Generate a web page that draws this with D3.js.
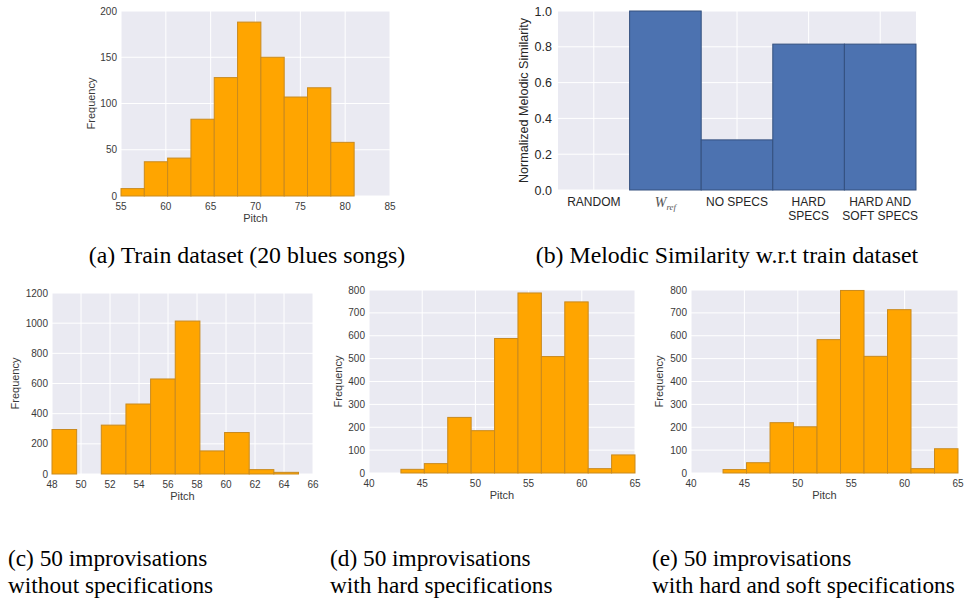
<!DOCTYPE html>
<html>
<head>
<meta charset="utf-8">
<script src="https://cdn.jsdelivr.net/npm/d3@7"></script>
<style>
  body { margin: 0; background: #fff; }
  svg text { font-family: "Liberation Sans", Arial, sans-serif; }
  .caption { font-family: "Liberation Serif", "Times New Roman", serif !important; fill: #000; }
</style>
</head>
<body>
<div id="chart"></div>
<script>
// Histogram data (bin edges + counts)
const trainEdges = [55, 57.6, 60.2, 62.8, 65.4, 68, 70.6, 73.2, 75.8, 78.4, 81];
const trainCounts = [8, 37, 41, 83, 128, 188, 150, 107, 117, 58];

const noSpecEdges = [48, 49.7, 51.4, 53.1, 54.8, 56.5, 58.2, 59.9, 61.6, 63.3, 65];
const noSpecCounts = [295, 0, 324, 464, 630, 1014, 153, 275, 29, 11];

const hardEdges = [43, 45.2, 47.4, 49.6, 51.8, 54, 56.2, 58.4, 60.6, 62.8, 65];
const hardCounts = [16, 41, 243, 185, 588, 787, 509, 748, 19, 79];
const hardSoftCounts = [15, 45, 220, 202, 583, 798, 510, 714, 19, 106];

// Melodic similarity bar chart
const simCategories = ["RANDOM", "WREF", "NO SPECS", "HARD SPECS", "HARD AND SOFT SPECS"];
const simValues = [0, 1.0, 0.28, 0.815, 0.815];
const simTicks = [0, 0.2, 0.4, 0.6, 0.8, 1.0];

const width = 964;
const height = 603;

const svg = d3.select("#chart")
    .append("svg")
    .attr("width", width)
    .attr("height", height);

function drawHist(box, xDomain, xTicks, yDomain, yTicks, edges, counts, fs) {
    const x = d3.scaleLinear().domain(xDomain).range([box.left, box.right]);
    const y = d3.scaleLinear().domain(yDomain).range([box.bottom, box.top]);
    const g = svg.append("g");

    g.append("rect")
        .attr("x", box.left).attr("y", box.top)
        .attr("width", box.right - box.left).attr("height", box.bottom - box.top)
        .attr("fill", "#eaeaf2");

    // grid
    g.selectAll(".gx").data(xTicks).enter().append("line")
        .attr("x1", d => x(d)).attr("x2", d => x(d))
        .attr("y1", box.top).attr("y2", box.bottom)
        .attr("stroke", "#fff").attr("stroke-width", 1);
    g.selectAll(".gy").data(yTicks).enter().append("line")
        .attr("x1", box.left).attr("x2", box.right)
        .attr("y1", d => y(d)).attr("y2", d => y(d))
        .attr("stroke", "#fff").attr("stroke-width", 1);

    // bars
    const bins = counts.map((c, i) => ({ x0: edges[i], x1: edges[i + 1], c: c }));
    g.selectAll(".bar").data(bins).enter().append("rect")
        .attr("x", d => x(d.x0))
        .attr("y", d => y(d.c))
        .attr("width", d => x(d.x1) - x(d.x0))
        .attr("height", d => y(0) - y(d.c))
        .attr("fill", "#ffa500")
        .attr("stroke", "#c98a1e")
        .attr("stroke-width", 1);

    // tick labels
    g.selectAll(".tx").data(xTicks).enter().append("text")
        .attr("x", d => x(d)).attr("y", box.bottom + 14)
        .attr("text-anchor", "middle")
        .attr("font-size", fs).attr("fill", "#3a3a3a")
        .text(d => d);
    g.selectAll(".ty").data(yTicks).enter().append("text")
        .attr("x", box.left - 4).attr("y", d => y(d) + fs * 0.36)
        .attr("text-anchor", "end")
        .attr("font-size", fs).attr("fill", "#3a3a3a")
        .text(d => d);

    g.append("text")
        .attr("x", (box.left + box.right) / 2).attr("y", box.bottom + 26)
        .attr("text-anchor", "middle")
        .attr("font-size", fs + 1).attr("fill", "#3a3a3a")
        .text("Pitch");
    g.append("text")
        .attr("transform", `translate(${box.ylab},${(box.top + box.bottom) / 2}) rotate(-90)`)
        .attr("text-anchor", "middle")
        .attr("font-size", fs + 1).attr("fill", "#3a3a3a")
        .text("Frequency");
}

drawHist({ left: 121, right: 390, top: 11, bottom: 196, ylab: 95 },
    [55, 85], [55, 60, 65, 70, 75, 80, 85], [0, 200], [0, 50, 100, 150, 200],
    trainEdges, trainCounts, 10);

drawHist({ left: 52, right: 313, top: 293, bottom: 474, ylab: 19 },
    [48, 66], [48, 50, 52, 54, 56, 58, 60, 62, 64, 66], [0, 1200], [0, 200, 400, 600, 800, 1000, 1200],
    noSpecEdges, noSpecCounts, 10);

drawHist({ left: 369, right: 635, top: 290, bottom: 473, ylab: 342 },
    [40, 65], [40, 45, 50, 55, 60, 65], [0, 800], [0, 100, 200, 300, 400, 500, 600, 700, 800],
    hardEdges, hardCounts, 10);

drawHist({ left: 691, right: 958, top: 290, bottom: 473, ylab: 663 },
    [40, 65], [40, 45, 50, 55, 60, 65], [0, 800], [0, 100, 200, 300, 400, 500, 600, 700, 800],
    hardEdges, hardSoftCounts, 10);

// Panel (b): similarity bars
(function () {
    const box = { left: 558, right: 916, top: 11, bottom: 190 };
    const x = d3.scaleBand().domain(simCategories).range([box.left, box.right]).padding(0);
    const y = d3.scaleLinear().domain([0, 1]).range([box.bottom, box.top]);
    const g = svg.append("g");

    g.append("rect")
        .attr("x", box.left).attr("y", box.top)
        .attr("width", box.right - box.left).attr("height", box.bottom - box.top)
        .attr("fill", "#eaeaf2");
    g.selectAll(".gx").data(simCategories).enter().append("line")
        .attr("x1", d => x(d) + x.bandwidth() / 2).attr("x2", d => x(d) + x.bandwidth() / 2)
        .attr("y1", box.top).attr("y2", box.bottom)
        .attr("stroke", "#fff");
    g.selectAll(".gy").data(simTicks).enter().append("line")
        .attr("x1", box.left).attr("x2", box.right)
        .attr("y1", d => y(d)).attr("y2", d => y(d))
        .attr("stroke", "#fff");

    g.selectAll(".bar").data(simCategories).enter().append("rect")
        .attr("x", d => x(d))
        .attr("y", (d, i) => y(simValues[i]))
        .attr("width", x.bandwidth())
        .attr("height", (d, i) => y(0) - y(simValues[i]))
        .attr("fill", "#4c72b0")
        .attr("stroke", (d, i) => simValues[i] > 0 ? "#34507f" : "none")
        .attr("stroke-width", 1);

    g.selectAll(".ty").data(simTicks).enter().append("text")
        .attr("x", box.left - 6).attr("y", d => y(d) + 4.5)
        .attr("text-anchor", "end")
        .attr("font-size", 12.5).attr("fill", "#262626")
        .text(d => d.toFixed(1));

    const lines = {
        "RANDOM": ["RANDOM"],
        "NO SPECS": ["NO SPECS"],
        "HARD SPECS": ["HARD", "SPECS"],
        "HARD AND SOFT SPECS": ["HARD AND", "SOFT SPECS"]
    };
    simCategories.forEach(c => {
        const cx = x(c) + x.bandwidth() / 2;
        if (c === "WREF") {
            const t = g.append("text")
                .attr("x", cx).attr("y", box.bottom + 17)
                .attr("text-anchor", "middle")
                .attr("fill", "#555")
                .style("font-family", "'Liberation Serif', serif")
                .style("font-style", "italic");
            t.append("tspan").attr("font-size", 14).text("W");
            t.append("tspan").attr("font-size", 9).attr("dy", 3).text("ref");
            return;
        }
        lines[c].forEach((l, k) => {
            g.append("text")
                .attr("x", cx).attr("y", box.bottom + 16 + k * 13.5)
                .attr("text-anchor", "middle")
                .attr("font-size", 12).attr("fill", "#262626")
                .text(l);
        });
    });

    g.append("text")
        .attr("transform", `translate(528,${(box.top + box.bottom) / 2}) rotate(-90)`)
        .attr("text-anchor", "middle")
        .attr("font-size", 12.6).attr("fill", "#262626")
        .text("Normalized Melodic Similarity");
})();

// Captions
const captions = [
    { x: 247, y: 263, anchor: "middle", size: 23.8, lines: ["(a) Train dataset (20 blues songs)"] },
    { x: 727, y: 263, anchor: "middle", size: 23.8, lines: ["(b) Melodic Similarity w.r.t train dataset"] },
    { x: 8, y: 566, anchor: "start", size: 23.3, lines: ["(c) 50 improvisations", "without specifications"] },
    { x: 330, y: 566, anchor: "start", size: 23.3, lines: ["(d) 50 improvisations", "with hard specifications"] },
    { x: 652, y: 566, anchor: "start", size: 23.3, lines: ["(e) 50 improvisations", "with hard and soft specifications"] }
];
captions.forEach(c => {
    c.lines.forEach((l, k) => {
        svg.append("text")
            .attr("class", "caption")
            .attr("x", c.x).attr("y", c.y + k * 27)
            .attr("text-anchor", c.anchor)
            .attr("font-size", c.size)
            .text(l);
    });
});
</script>
</body>
</html>
